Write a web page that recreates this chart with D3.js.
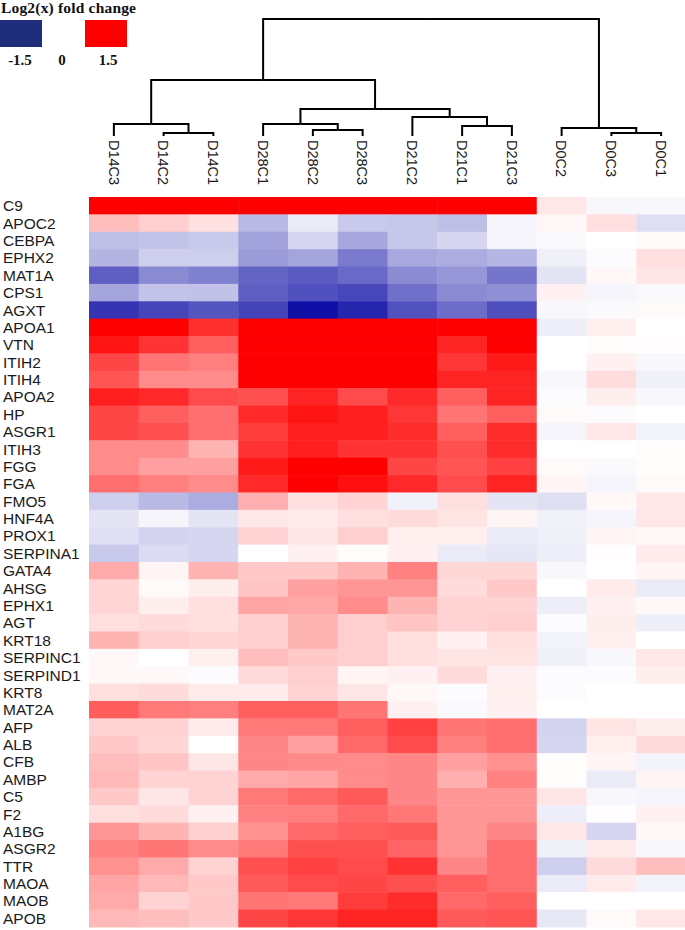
<!DOCTYPE html>
<html>
<head>
<meta charset="utf-8">
<script src="https://cdn.jsdelivr.net/npm/d3@7"></script>
<style>
  body { margin: 0; background: #fff; }
  .rowlab, .collab { font-family: "Liberation Sans", Arial, sans-serif; fill: #1a1a1a; }
  .legend text { font-family: "Liberation Serif", "Times New Roman", serif; font-weight: bold; fill: #111; }
</style>
</head>
<body>
<div id="heatmap"></div>
<script>
// samples, in the order of the dendrogram leaves
var samples = ["D14C3", "D14C2", "D14C1", "D28C1", "D28C2", "D28C3",
               "D21C2", "D21C1", "D21C3", "D0C2", "D0C3", "D0C1"];

var genes = ["C9", "APOC2", "CEBPA", "EPHX2", "MAT1A", "CPS1", "AGXT", "APOA1", "VTN",
  "ITIH2", "ITIH4", "APOA2", "HP", "ASGR1", "ITIH3", "FGG", "FGA", "FMO5", "HNF4A",
  "PROX1", "SERPINA1", "GATA4", "AHSG", "EPHX1", "AGT", "KRT18", "SERPINC1",
  "SERPIND1", "KRT8", "MAT2A", "AFP", "ALB", "CFB", "AMBP", "C5", "F2", "A1BG",
  "ASGR2", "TTR", "MAOA", "MAOB", "APOB"];

// log2 fold change, one row per gene, one column per sample
var values = [
  [2.0, 2.0, 2.0, 2.0, 2.0, 2.0, 2.0, 2.0, 2.0, 0.14, -0.05, -0.04],
  [0.38, 0.29, 0.18, -0.41, -0.12, -0.32, -0.33, -0.38, -0.06, 0.05, 0.19, -0.19],
  [-0.38, -0.35, -0.32, -0.55, -0.25, -0.52, -0.33, -0.24, -0.06, -0.03, 0, 0.03],
  [-0.44, -0.29, -0.29, -0.59, -0.53, -0.78, -0.51, -0.49, -0.43, -0.09, -0.02, 0.19],
  [-0.94, -0.69, -0.75, -0.91, -0.97, -0.88, -0.68, -0.62, -0.81, -0.16, 0.04, 0.15],
  [-0.53, -0.35, -0.36, -0.94, -1.03, -1.08, -0.84, -0.69, -0.66, 0.08, -0.06, -0.03],
  [-1.19, -1.09, -1.0, -1.1, -1.41, -1.28, -1.02, -0.86, -1.04, -0.04, -0.03, 0.03],
  [1.6, 1.6, 1.22, 1.7, 1.7, 1.7, 1.7, 1.6, 1.6, -0.1, 0.09, 0],
  [1.38, 1.2, 0.94, 1.7, 1.7, 1.7, 1.6, 1.29, 1.55, 0, 0.02, 0.01],
  [1.09, 0.82, 0.76, 1.7, 1.7, 1.7, 1.6, 1.18, 1.35, 0, 0.08, -0.05],
  [1.0, 0.68, 0.68, 1.7, 1.7, 1.7, 1.6, 1.29, 1.29, -0.05, 0.2, -0.09],
  [1.32, 1.26, 1.06, 1.03, 1.29, 1.06, 1.26, 0.94, 1.29, -0.02, 0.1, -0.05],
  [1.09, 0.94, 0.85, 1.26, 1.38, 1.32, 1.18, 0.82, 0.94, 0.03, -0.02, 0],
  [1.09, 1.03, 0.85, 1.15, 1.32, 1.32, 1.24, 0.94, 1.24, -0.06, 0.14, -0.07],
  [0.68, 0.68, 0.44, 1.2, 1.32, 1.2, 1.2, 1.03, 1.24, 0, 0, 0.02],
  [0.68, 0.56, 0.56, 1.35, 1.55, 1.5, 1.09, 1.0, 1.12, 0.03, -0.03, 0.02],
  [0.85, 0.76, 0.68, 1.26, 1.55, 1.41, 1.26, 1.06, 1.29, 0.06, -0.06, 0.03],
  [-0.29, -0.41, -0.49, 0.47, 0.18, 0.26, -0.08, 0.18, -0.16, -0.19, 0.04, 0.14],
  [-0.16, -0.06, -0.16, 0.14, 0.12, 0.19, 0.22, 0.16, 0.06, -0.08, -0.06, 0.14],
  [-0.19, -0.26, -0.24, 0.26, 0.15, 0.28, 0.09, 0.09, -0.12, -0.09, 0.06, 0.04],
  [-0.32, -0.21, -0.24, 0, 0.08, 0.02, 0.08, -0.12, -0.15, -0.1, 0.01, 0.12],
  [0.5, 0.06, 0.44, 0.32, 0.32, 0.45, 0.74, 0.24, 0.24, -0.05, 0, 0.06],
  [0.25, 0.03, 0.1, 0.35, 0.56, 0.62, 0.63, 0.21, 0.32, 0, 0.12, -0.12],
  [0.25, 0.1, 0.19, 0.53, 0.51, 0.68, 0.44, 0.26, 0.26, -0.1, 0.08, 0.04],
  [0.19, 0.21, 0.18, 0.29, 0.44, 0.29, 0.35, 0.26, 0.29, -0.02, 0.1, -0.1],
  [0.44, 0.29, 0.25, 0.28, 0.44, 0.29, 0.19, 0.08, 0.19, -0.07, 0.09, 0],
  [0.04, 0, 0.09, 0.38, 0.32, 0.28, 0.18, 0.16, 0.16, -0.09, -0.04, 0.14],
  [0.04, 0.04, -0.02, 0.22, 0.29, 0.06, 0.08, 0.21, 0.08, -0.02, -0.02, 0.1],
  [0.19, 0.21, 0.12, 0.12, 0.26, 0.15, 0.04, -0.02, 0.09, -0.02, 0, 0],
  [0.96, 0.79, 0.76, 0.94, 0.94, 0.82, 0.08, -0.03, 0.08, 0, 0, 0],
  [0.26, 0.26, 0.12, 0.79, 0.79, 0.94, 1.12, 0.82, 0.85, -0.26, 0.16, 0.1],
  [0.32, 0.25, 0, 0.71, 0.56, 0.88, 1.06, 0.76, 0.85, -0.25, 0.09, 0.22],
  [0.38, 0.35, 0.15, 0.71, 0.69, 0.68, 0.71, 0.56, 0.65, 0.02, 0.06, -0.07],
  [0.41, 0.26, 0.26, 0.5, 0.53, 0.68, 0.71, 0.47, 0.74, 0.02, -0.12, 0.06],
  [0.32, 0.15, 0.26, 0.79, 0.88, 0.97, 0.71, 0.62, 0.62, 0.15, -0.05, -0.06],
  [0.18, 0.21, 0.08, 0.74, 0.76, 0.88, 0.8, 0.62, 0.62, -0.1, 0.01, 0.08],
  [0.62, 0.44, 0.29, 0.65, 0.88, 0.94, 0.97, 0.62, 0.71, 0.14, -0.24, 0.04],
  [0.74, 0.82, 0.68, 0.79, 1.03, 1.03, 0.91, 0.63, 0.85, -0.09, 0.12, -0.05],
  [0.65, 0.5, 0.26, 1.03, 1.12, 1.06, 1.2, 0.71, 0.85, -0.29, 0.22, 0.38],
  [0.53, 0.41, 0.32, 0.97, 1.06, 1.09, 1.03, 0.94, 0.85, -0.12, 0.12, -0.07],
  [0.5, 0.26, 0.32, 0.82, 0.79, 1.15, 1.24, 0.88, 0.94, 0, 0, 0],
  [0.41, 0.38, 0.32, 1.09, 1.18, 1.29, 1.29, 0.97, 1.0, -0.14, 0.03, 0.14]
];

// column dendrogram: merge heights (distance units) and leaves
var dendro = {h: 11.7, children: [
  {h: 5.6, children: [
    {h: 1.2, children: [{name: "D14C3"}, {h: 0.3, children: [{name: "D14C2"}, {name: "D14C1"}]}]},
    {h: 2.7, children: [
      {h: 1.2, children: [{name: "D28C1"}, {h: 0.6, children: [{name: "D28C2"}, {name: "D28C3"}]}]},
      {h: 1.9, children: [{name: "D21C2"}, {h: 1.0, children: [{name: "D21C1"}, {name: "D21C3"}]}]}
    ]}
  ]},
  {h: 0.8, children: [{name: "D0C2"}, {h: 0.3, children: [{name: "D0C3"}, {name: "D0C1"}]}]}
]};

var legendTicks = [-1.5, 0, 1.5];

var W = 685, H = 930;
var mapLeft = 89, mapTop = 197, cellH = 17.38;

var svg = d3.select("#heatmap").append("svg")
    .attr("width", W)
    .attr("height", H);

var xScale = d3.scaleBand()
    .domain(samples)
    .range([mapLeft, W + 1]);

var yScale = d3.scaleBand()
    .domain(genes)
    .range([mapTop, mapTop + cellH * genes.length]);

var color = d3.scaleLinear()
    .domain([-1.5, 0, 1.5])
    .range(["rgb(0,0,160)", "#ffffff", "#ff0000"])
    .clamp(true);

// cells
var cells = [];
genes.forEach(function(g, i) {
  samples.forEach(function(s, j) {
    cells.push({gene: g, sample: s, value: values[i][j]});
  });
});

svg.append("g")
  .selectAll("rect")
  .data(cells)
  .enter().append("rect")
    .attr("x", function(d) { return xScale(d.sample); })
    .attr("y", function(d) { return yScale(d.gene); })
    .attr("width", xScale.bandwidth() + 0.5)
    .attr("height", yScale.bandwidth() + 0.5)
    .attr("fill", function(d) { return color(d.value); });

// row labels
svg.append("g")
  .selectAll("text")
  .data(genes)
  .enter().append("text")
    .attr("class", "rowlab")
    .attr("x", 3)
    .attr("y", function(d) { return yScale(d) + yScale.bandwidth() / 2; })
    .attr("dy", "0.36em")
    .style("font-size", "15.5px")
    .text(function(d) { return d; });

// column labels (rotated, reading downwards)
var labTop = 140;
svg.append("g")
  .selectAll("text")
  .data(samples)
  .enter().append("text")
    .attr("class", "collab")
    .attr("transform", function(d) {
      return "translate(" + (xScale(d) + xScale.bandwidth() / 2) + "," + labTop + ") rotate(90)";
    })
    .attr("dy", "0.36em")
    .style("font-size", "14.5px")
    .text(function(d) { return d; });

// dendrogram
var root = d3.hierarchy(dendro);
var hScale = d3.scaleLinear()
    .domain([0, dendro.h])
    .range([136, 19]);

root.eachAfter(function(n) {
  if (!n.children) {
    n.px = xScale(n.data.name) + xScale.bandwidth() / 2;
    n.py = hScale(0);
  } else {
    n.px = (n.children[0].px + n.children[n.children.length - 1].px) / 2;
    n.py = hScale(n.data.h);
  }
});

svg.append("g")
  .selectAll("path")
  .data(root.links())
  .enter().append("path")
    .attr("fill", "none")
    .attr("stroke", "#000")
    .attr("stroke-width", 2)
    .attr("d", function(l) {
      return "M" + l.target.px + "," + l.target.py +
             "V" + l.source.py + "H" + l.source.px;
    });

// legend
var legend = svg.append("g").attr("class", "legend");

legend.append("text")
  .attr("x", 1)
  .attr("y", 12.5)
  .style("font-size", "15.5px")
  .attr("textLength", 135)
  .text("Log2(x) fold change");

legend.append("rect")
  .attr("x", 0).attr("y", 20)
  .attr("width", 42).attr("height", 27)
  .attr("fill", "#1f2d7c");

legend.append("rect")
  .attr("x", 85).attr("y", 20)
  .attr("width", 42).attr("height", 27)
  .attr("fill", "#ff0000");

var legX = d3.scaleLinear().domain([-1.5, 1.5]).range([20, 108]);

legend.selectAll(".tick")
  .data(legendTicks)
  .enter().append("text")
    .attr("class", "tick")
    .attr("x", function(d) { return legX(d) - (d === 0 ? 2 : 0); })
    .attr("y", 65)
    .attr("text-anchor", "middle")
    .style("font-size", "15px")
    .text(function(d) { return d; });
</script>
</body>
</html>
